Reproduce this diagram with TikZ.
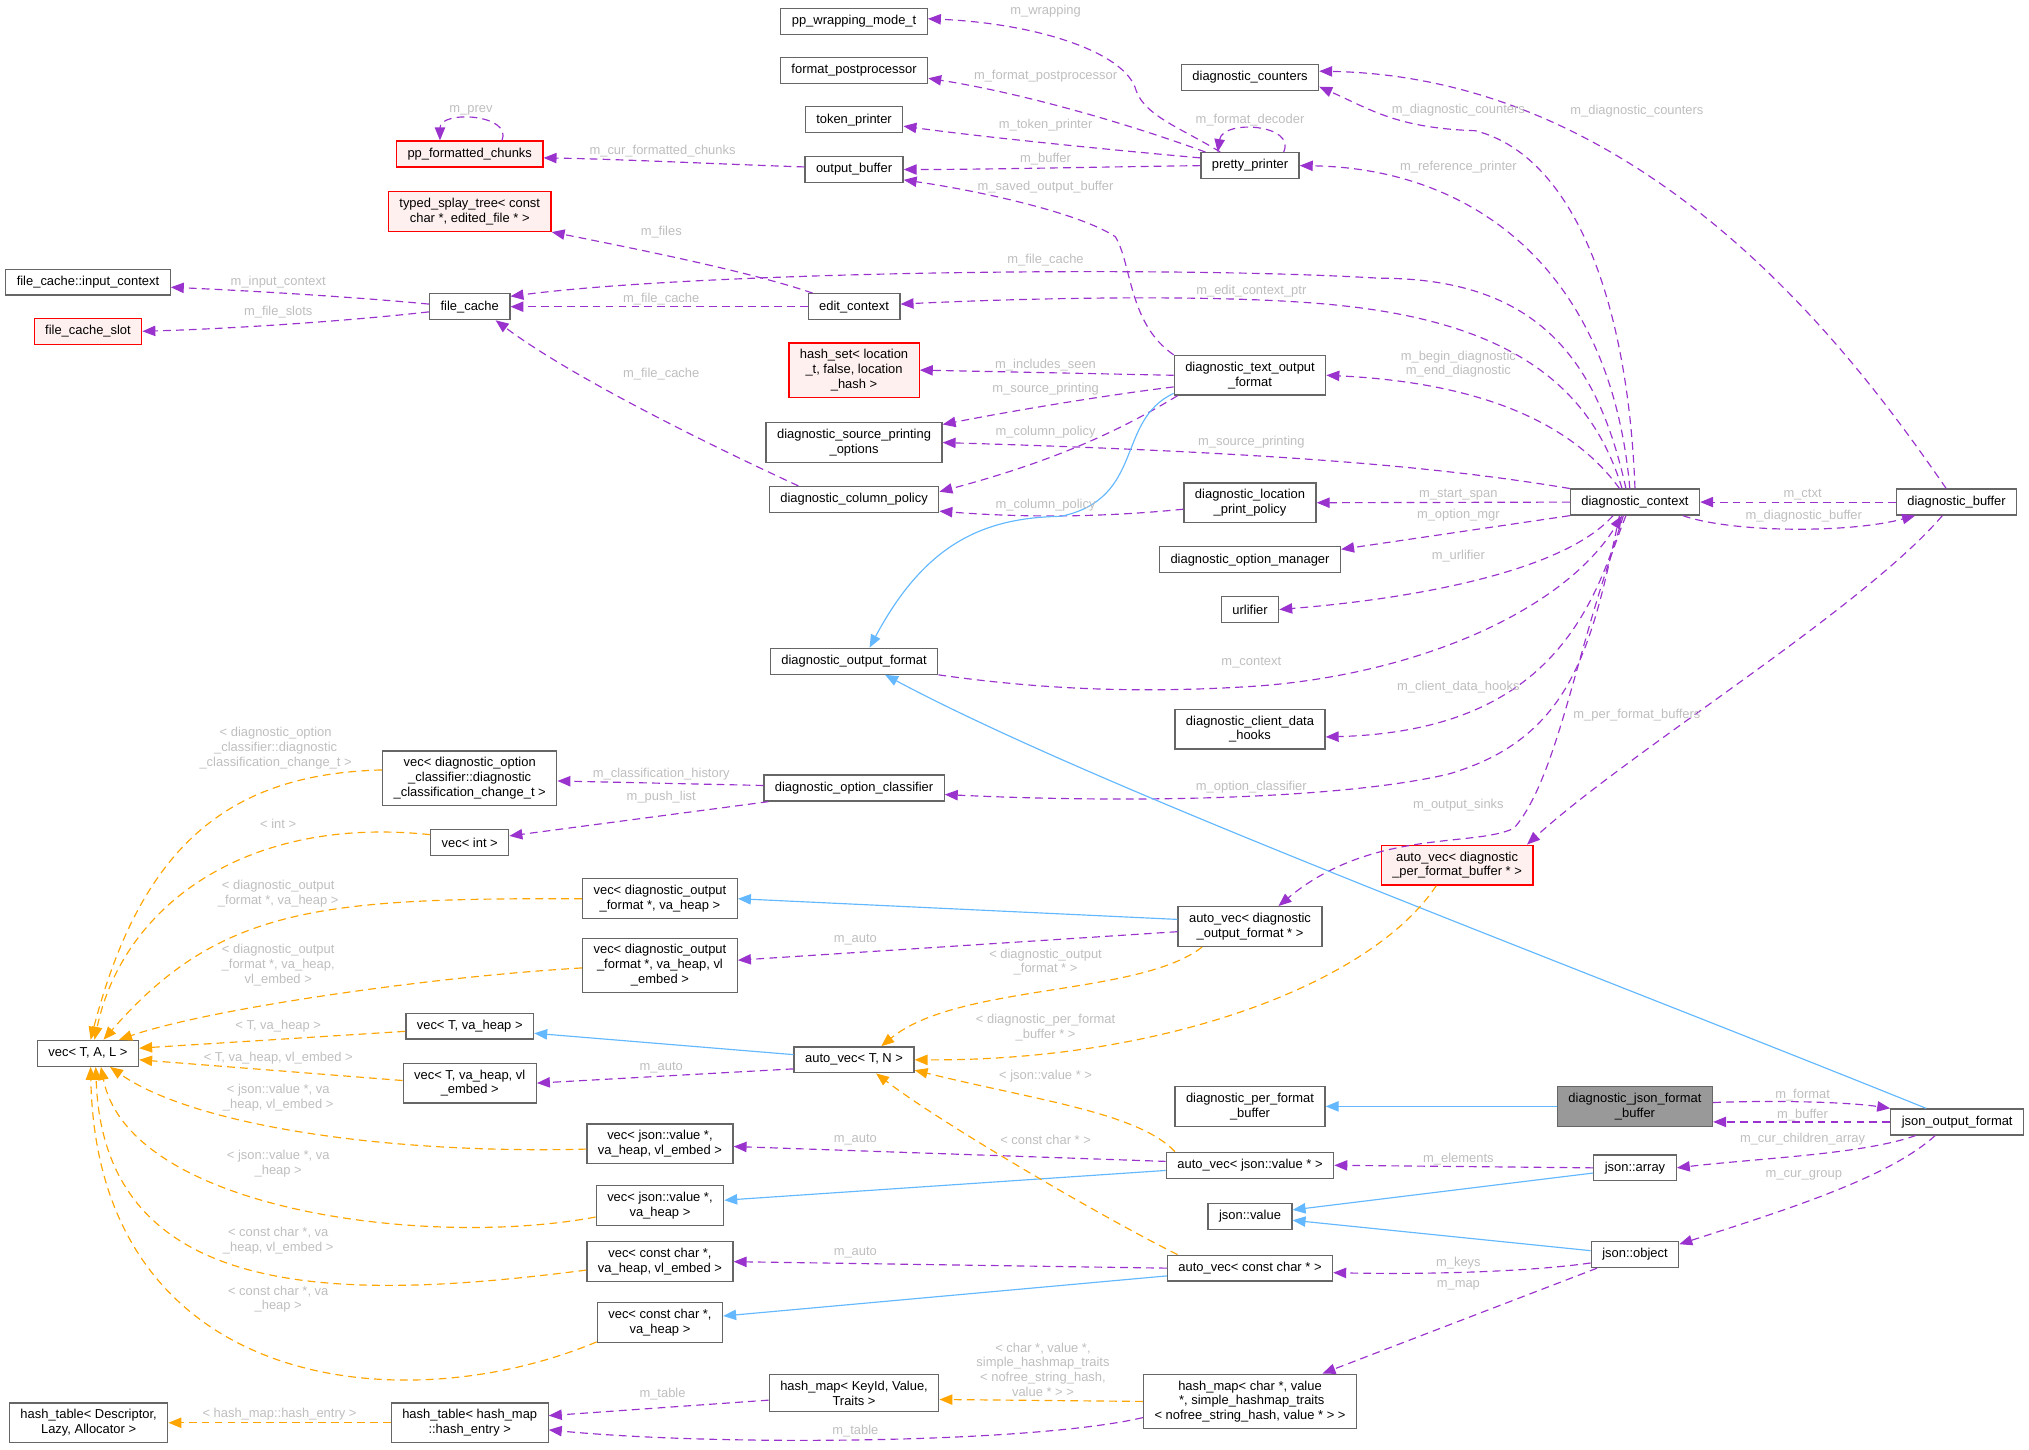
\documentclass[tikz,border=0pt]{standalone}
\usepackage{fontspec}
\setmainfont{Liberation Sans}
\usetikzlibrary{arrows.meta}
\definecolor{memc}{HTML}{9A32CD}
\definecolor{tplc}{HTML}{FFA500}
\definecolor{inhc}{HTML}{63B8FF}
\definecolor{edgec}{HTML}{666666}
\definecolor{lblc}{HTML}{BEBEBE}
\definecolor{redfill}{HTML}{FFF0F0}
\definecolor{selfill}{HTML}{999999}

\begin{document}
\begin{tikzpicture}[x=1pt,y=-1pt,
	box/.style={draw=edgec,line width=1pt,fill=white,align=center,
		font=\fontsize{10}{11.4}\selectfont,inner xsep=8.5pt,inner ysep=5pt,minimum height=20pt},
	redbox/.style={box,draw=red,fill=redfill},
	selbox/.style={box,fill=selfill},
	lbl/.style={text=lblc,align=center,font=\fontsize{10}{11.4}\selectfont,inner sep=0pt},
	mem/.style={draw=memc,line width=0.9pt,dash pattern=on 6pt off 4pt,-{Triangle[length=10pt,width=8pt]}},
	tpl/.style={mem,draw=tplc},
	inh/.style={draw=inhc,line width=0.9pt,-{Triangle[length=10pt,width=8pt]}}]
	\useasboundingbox (0,0) rectangle (1568,1120);
	% classes
	\node[box] (ppw) at (660,16.5) {pp\_wrapping\_mode\_t};
	\node[box] (fpp) at (660,54.5) {format\_postprocessor};
	\node[box] (tok) at (660,92.5) {token\_printer};
	\node[box] (obuf) at (660,131) {output\_buffer};
	\node[box] (cnt) at (966,60) {diagnostic\_counters};
	\node[box] (pp) at (966,128) {pretty\_printer};
	\node[redbox] (chunks) at (363,119) {pp\_formatted\_chunks};
	\node[redbox] (splay) at (363,163.5) {typed\_splay\_tree< const\\char *, edited\_file * >};
	\node[box] (inctx) at (68,218) {file\_cache::input\_context};
	\node[redbox] (slot) at (68,256) {file\_cache\_slot};
	\node[box] (fc) at (363,237) {file\_cache};
	\node[box] (edit) at (660,237) {edit\_context};
	\node[redbox] (hset) at (660,286) {hash\_set< location\\\_t, false, location\\\_hash >};
	\node[box] (txt) at (966,290) {diagnostic\_text\_output\\\_format};
	\node[box] (srcp) at (660,342) {diagnostic\_source\_printing\\\_options};
	\node[box] (colp) at (660,386) {diagnostic\_column\_policy};
	\node[box] (locp) at (966,388.5) {diagnostic\_location\\\_print\_policy};
	\node[box] (optm) at (966,432.5) {diagnostic\_option\_manager};
	\node[box] (url) at (966,471) {urlifier};
	\node[box] (ctx) at (1263.5,388) {diagnostic\_context};
	\node[box] (dbuf) at (1512,388) {diagnostic\_buffer};
	\node[box] (dof) at (660,511) {diagnostic\_output\_format};
	\node[box] (hooks) at (966,563.5) {diagnostic\_client\_data\\\_hooks};
	\node[box] (vcls) at (363,601.5) {vec< diagnostic\_option\\\_classifier::diagnostic\\\_classification\_change\_t >};
	\node[box] (ocls) at (660,609) {diagnostic\_option\_classifier};
	\node[box] (vint) at (363,651) {vec< int >};
	\node[redbox] (avpf) at (1126,668.5) {auto\_vec< diagnostic\\\_per\_format\_buffer * >};
	\node[box] (vdofh) at (510,694.5) {vec< diagnostic\_output\\\_format *, va\_heap >};
	\node[box] (avdof) at (966,716) {auto\_vec< diagnostic\\\_output\_format * >};
	\node[box] (vdofe) at (510,746) {vec< diagnostic\_output\\\_format *, va\_heap, vl\\\_embed >};
	\node[box] (vtal) at (68,814) {vec< T, A, L >};
	\node[box] (vth) at (363,793) {vec< T, va\_heap >};
	\node[box] (avtn) at (660,819) {auto\_vec< T, N >};
	\node[box] (vte) at (363,837) {vec< T, va\_heap, vl\\\_embed >};
	\node[box] (pfb) at (966,855) {diagnostic\_per\_format\\\_buffer};
	\node[selbox] (jfb) at (1263.5,855) {diagnostic\_json\_format\\\_buffer};
	\node[box] (jof) at (1512.5,867) {json\_output\_format};
	\node[box] (vjve) at (510,884) {vec< json::value *,\\va\_heap, vl\_embed >};
	\node[box] (avjv) at (966,900.5) {auto\_vec< json::value * >};
	\node[box] (jarr) at (1263.5,902.5) {json::array};
	\node[box] (vjvh) at (510,931.5) {vec< json::value *,\\va\_heap >};
	\node[box] (jval) at (966,940) {json::value};
	\node[box] (jobj) at (1263.5,969.5) {json::object};
	\node[box] (vcce) at (510,975) {vec< const char *,\\va\_heap, vl\_embed >};
	\node[box] (avcc) at (966,980) {auto\_vec< const char * >};
	\node[box] (vcch) at (510,1022) {vec< const char *,\\va\_heap >};
	\node[box] (hmk) at (660,1076.5) {hash\_map< KeyId, Value,\\Traits >};
	\node[box] (hmc) at (966,1083) {hash\_map< char *, value\\{} *, simple\_hashmap\_traits\\< nofree\_string\_hash, value * > >};
	\node[box] (htd) at (68.5,1099.5) {hash\_table< Descriptor,\\Lazy, Allocator >};
	\node[box] (hte) at (363,1099.5) {hash\_table< hash\_map\\::hash\_entry >};
	% members
	\draw[mem] ([xshift=-23pt]pp.north) .. controls (915,100) and (885,90) .. (878,70) .. controls (870,40) and (800,18) .. ([yshift=2pt]ppw.east);
	\draw[mem] ([xshift=4pt]pp.north west) .. controls (870,95) and (790,72) .. ([yshift=-6pt]fpp.east);
	\draw[mem] ([yshift=6pt]pp.west) .. controls (860,116) and (760,106) .. ([yshift=-5pt]tok.east);
	\draw[mem] (pp.west) .. controls (850,129) and (760,131) .. (obuf.east);
	\draw[mem] ([xshift=26pt]pp.north) .. controls (1002,96) and (945,92) .. ([xshift=-25pt]pp.north);
	\draw[mem] ([yshift=2pt]obuf.west) .. controls (560,127) and (480,123) .. ([yshift=-3pt]chunks.east);
	\draw[mem] ([xshift=25pt]chunks.north) .. controls (396,88) and (340,85) .. ([xshift=-23pt]chunks.north);
	\draw[mem] ([xshift=-32pt]edit.north) .. controls (580,210) and (490,192) .. (splay.south east);
	\draw[mem] ([yshift=2pt]fc.west) .. controls (280,230) and (200,225) .. ([yshift=-4pt]inctx.east);
	\draw[mem] ([yshift=-4pt]fc.west) .. controls (270,248) and (180,254) .. (slot.east);
	\draw[mem] (edit.west) -- (fc.east);
	\draw[mem] ([xshift=-7pt]ctx.north) .. controls (1235,280) and (1190,215) .. (1066,215) .. controls (900,205) and (540,210) .. ([yshift=8pt]fc.east);
	\draw[mem] ([xshift=-10pt]ctx.north) .. controls (1230,300) and (1170,250) .. (1035,236) .. controls (950,227) and (800,230) .. ([yshift=2pt]edit.east);
	\draw[mem] (ctx.north) .. controls (1258,230) and (1215,120) .. (1140,101) .. controls (1080,99) and (1060,85) .. ([yshift=-7pt]cnt.east);
	\draw[mem] ([xshift=-8pt]dbuf.north) .. controls (1440,285) and (1280,60) .. ([yshift=5pt]cnt.east);
	\draw[mem] ([xshift=-4pt]ctx.north) .. controls (1245,210) and (1140,130) .. (pp.east);
	\draw[mem] ([xshift=-12pt]ctx.north) .. controls (1210,320) and (1130,295) .. (txt.east);
	\draw[mem] (txt.north west) .. controls (872,250) and (875,205) .. (862,183) .. controls (835,165) and (760,148) .. ([yshift=-8pt]obuf.east);
	\draw[mem] (txt.west) -- (hset.east);
	\draw[mem] ([yshift=-9pt]txt.west) .. controls (850,306) and (780,318) .. ([yshift=14pt]srcp.east);
	\draw[mem] ([xshift=3pt]txt.south west) .. controls (870,330) and (820,355) .. ([yshift=6pt]colp.east);
	\draw[mem] ([yshift=-5pt]locp.west) .. controls (850,400) and (790,400) .. ([yshift=-9pt]colp.east);
	\draw[mem] ([xshift=-43pt]colp.north) .. controls (540,340) and (440,290) .. ([xshift=20pt]fc.south);
	\draw[mem] (ctx.north west) .. controls (1120,362) and (1000,350) .. (srcp.east);
	\draw[mem] (ctx.west) -- (locp.east);
	\draw[mem] (ctx.south west) -- ([yshift=8pt]optm.east);
	\draw[mem] ([xshift=-17pt]ctx.south) .. controls (1210,440) and (1100,462) .. (url.east);
	\draw[mem] (dof.south east) .. controls (820,535) and (900,535) .. (974,530) .. controls (1100,520) and (1210,470) .. ([xshift=-10pt]ctx.south);
	\draw[mem] ([xshift=-9pt]ctx.south) .. controls (1230,480) and (1190,565) .. ([yshift=-6pt]hooks.east);
	\draw[mem] ([xshift=-12pt]ctx.south) .. controls (1230,500) and (1215,570) .. (1120,598) .. controls (1050,615) and (900,622) .. ([yshift=-5pt]ocls.east);
	\draw[mem] ([xshift=-7pt]ctx.south) .. controls (1220,490) and (1205,600) .. (1170,640) .. controls (1140,655) and (1060,640) .. ([xshift=22pt]avdof.north);
	\draw[mem] ([xshift=37pt]ctx.south) .. controls (1340,412) and (1430,412) .. ([xshift=-32pt]dbuf.south);
	\draw[mem] (dbuf.west) -- (ctx.east);
	\draw[mem] ([xshift=-11pt]dbuf.south) .. controls (1440,470) and (1260,580) .. ([xshift=-5pt]avpf.north east);
	\draw[mem] ([yshift=2pt]ocls.west) -- ([yshift=-2pt]vcls.east);
	\draw[mem] ([xshift=4pt]ocls.south west) -- ([yshift=5pt]vint.east);
	\draw[mem] ([yshift=-4pt]avdof.west) -- ([yshift=4pt]vdofe.east);
	\draw[mem] ([yshift=-7pt]avtn.west) -- (vte.east);
	\draw[mem] ([yshift=3pt]avjv.west) -- ([yshift=-2pt]vjve.east);
	\draw[mem] (avcc.west) -- (vcce.east);
	\draw[mem] (jarr.west) -- (avjv.east);
	\draw[mem] ([yshift=-6.5pt]jobj.west) .. controls (1180,983) and (1100,985) .. ([yshift=-3.5pt]avcc.east);
	\draw[mem] ([xshift=5pt]jobj.south west) -- ([xshift=56pt]hmc.north);
	\draw[mem] ([yshift=-5.5pt]hmk.west) -- ([yshift=5.5pt]hte.east);
	\draw[mem] ([yshift=-12.5pt]hmc.west) .. controls (800,1115) and (560,1118) .. ([yshift=-5.5pt]hte.east);
	\draw[mem] ([yshift=3pt]jfb.east) .. controls (1380,850) and (1430,852) .. (jof.north west);
	\draw[mem] (jof.west) -- ([yshift=-12pt]jfb.east);
	\draw[mem] ([xshift=-32pt]jof.south) .. controls (1440,892) and (1360,895) .. (jarr.east);
	\draw[mem] ([xshift=-17pt]jof.south) .. controls (1460,910) and (1380,935) .. ([yshift=8pt]jobj.east);
	% bases
	\draw[inh] ([yshift=-14pt]txt.west) .. controls (862,325) and (885,385) .. (820,399) .. controls (760,400) and (715,420) .. ([xshift=12pt]dof.north);
	\draw[inh] ([xshift=-24pt]jof.north) .. controls (1200,740) and (850,610) .. ([xshift=24pt]dof.south);
	\draw[inh] ([yshift=5.5pt]avdof.west) -- (vdofh.east);
	\draw[inh] ([yshift=4pt]avtn.west) -- ([yshift=-5.5pt]vth.east);
	\draw[inh] ([yshift=-4pt]avjv.west) -- ([yshift=4pt]vjvh.east);
	\draw[inh] ([yshift=-6pt]avcc.west) -- ([yshift=5pt]vcch.east);
	\draw[inh] (jfb.west) -- (pfb.east);
	\draw[inh] ([yshift=-4pt]jarr.west) -- ([yshift=5pt]jval.east);
	\draw[inh] ([yshift=3pt]jobj.west) -- ([yshift=-3pt]jval.east);
	% templates
	\draw[tpl] ([yshift=6.5pt]vcls.west) .. controls (180,598) and (110,650) .. ([xshift=2pt]vtal.north);
	\draw[tpl] ([yshift=6pt]vint.west) .. controls (190,630) and (95,700) .. ([xshift=5pt]vtal.north);
	\draw[tpl] (vdofh.west) .. controls (250,694) and (170,700) .. ([xshift=12pt]vtal.north);
	\draw[tpl] ([yshift=-2pt]vdofe.west) .. controls (330,755) and (160,780) .. ([xshift=24pt]vtal.north);
	\draw[tpl] ([yshift=-4pt]vth.west) -- ([yshift=4pt]vtal.east);
	\draw[tpl] ([yshift=2pt]vte.west) -- ([yshift=-5pt]vtal.east);
	\draw[tpl] ([yshift=-4pt]vjve.west) .. controls (300,892) and (150,870) .. ([xshift=17pt]vtal.south);
	\draw[tpl] ([yshift=-9pt]vjvh.west) .. controls (330,965) and (100,935) .. ([xshift=10pt]vtal.south);
	\draw[tpl] ([yshift=-6.5pt]vcce.west) .. controls (270,1005) and (80,1010) .. ([xshift=6pt]vtal.south);
	\draw[tpl] ([yshift=-15pt]vcch.west) .. controls (310,1100) and (75,1075) .. ([xshift=2pt]vtal.south);
	\draw[tpl] (hte.west) -- (htd.east);
	\draw[tpl] ([xshift=-37pt]avdof.south) .. controls (880,770) and (740,760) .. ([xshift=21pt]avtn.north);
	\draw[tpl] ([xshift=-16pt]avpf.south) .. controls (1060,760) and (900,820) .. (avtn.east);
	\draw[tpl] ([xshift=-58pt]avjv.north) .. controls (880,860) and (800,850) .. ([yshift=-8pt]avtn.east);
	\draw[tpl] ([xshift=-56pt]avcc.north) .. controls (860,945) and (730,870) .. ([xshift=17pt]avtn.south);
	\draw[tpl] (hmc.west) -- ([yshift=-5pt]hmk.east);
	% labels
	\node[lbl] (lwrap) at (808,9) {m\_wrapping};
	\node[lbl] (lfpp) at (808,59) {m\_format\_postprocessor};
	\node[lbl] (ltok) at (808,97) {m\_token\_printer};
	\node[lbl] (lbuf) at (808,123) {m\_buffer};
	\node[lbl] (ldec) at (966,93) {m\_format\_decoder};
	\node[lbl] (lchunk) at (512,117) {m\_cur\_formatted\_chunks};
	\node[lbl] (lprev) at (364,85) {m\_prev};
	\node[lbl] (lsave) at (808,145) {m\_saved\_output\_buffer};
	\node[lbl] (lfiles) at (511,179) {m\_files};
	\node[lbl] (linctx) at (215,218) {m\_input\_context};
	\node[lbl] (lslots) at (215,241) {m\_file\_slots};
	\node[lbl] (lfca) at (511,231) {m\_file\_cache};
	\node[lbl] (lfcb) at (808,201) {m\_file\_cache};
	\node[lbl] (lfcc) at (511,289) {m\_file\_cache};
	\node[lbl] (ledit) at (967,225) {m\_edit\_context\_ptr};
	\node[lbl] (lcnta) at (1127,85.5) {m\_diagnostic\_counters};
	\node[lbl] (lcntb) at (1265,86) {m\_diagnostic\_counters};
	\node[lbl] (lref) at (1127,129) {m\_reference\_printer};
	\node[lbl] (lbegin) at (1127,281.5) {m\_begin\_diagnostic\\m\_end\_diagnostic};
	\node[lbl] (lincl) at (808,282) {m\_includes\_seen};
	\node[lbl] (lsrca) at (808,300.6) {m\_source\_printing};
	\node[lbl] (lcola) at (808,333.6) {m\_column\_policy};
	\node[lbl] (lsrcb) at (967,342) {m\_source\_printing};
	\node[lbl] (lcolb) at (808,390) {m\_column\_policy};
	\node[lbl] (lspan) at (1127,382) {m\_start\_span};
	\node[lbl] (lmgr) at (1127,398) {m\_option\_mgr};
	\node[lbl] (lurl) at (1127,430) {m\_urlifier};
	\node[lbl] (lctx) at (967,512) {m\_context};
	\node[lbl] (lhooks) at (1127,531) {m\_client\_data\_hooks};
	\node[lbl] (locls) at (967,608) {m\_option\_classifier};
	\node[lbl] (lsinks) at (1127,622) {m\_output\_sinks};
	\node[lbl] (lpfb) at (1265,553) {m\_per\_format\_buffers};
	\node[lbl] (lctxt) at (1393,382) {m\_ctxt};
	\node[lbl] (ldbuf) at (1394,398.5) {m\_diagnostic\_buffer};
	\node[lbl] (lhist) at (511,598) {m\_classification\_history};
	\node[lbl] (lpush) at (511,616) {m\_push\_list};
	\node[lbl] (lauta) at (661,726) {m\_auto};
	\node[lbl] (lautb) at (511,825) {m\_auto};
	\node[lbl] (lautc) at (661,881) {m\_auto};
	\node[lbl] (lautd) at (661,968) {m\_auto};
	\node[lbl] (lelem) at (1127,896) {m\_elements};
	\node[lbl] (lkeys) at (1127,976) {m\_keys};
	\node[lbl] (lmap) at (1127,993) {m\_map};
	\node[lbl] (ltaba) at (512,1077.5) {m\_table};
	\node[lbl] (ltabb) at (661,1106) {m\_table};
	\node[lbl] (lfmt) at (1393,846) {m\_format};
	\node[lbl] (ljbuf) at (1393,862) {m\_buffer};
	\node[lbl] (lchild) at (1393,880) {m\_cur\_children\_array};
	\node[lbl] (lgroup) at (1394,908) {m\_cur\_group};
	\node[lbl] (tcls) at (213,578) {< diagnostic\_option\\\_classifier::diagnostic\\\_classification\_change\_t >};
	\node[lbl] (tint) at (215,637) {< int >};
	\node[lbl] (tdofh) at (215,690.6) {< diagnostic\_output\\\_format *, va\_heap >};
	\node[lbl] (tdofe) at (215,746) {< diagnostic\_output\\\_format *, va\_heap,\\vl\_embed >};
	\node[lbl] (tth) at (215,793) {< T, va\_heap >};
	\node[lbl] (tte) at (215,818) {< T, va\_heap, vl\_embed >};
	\node[lbl] (tjve) at (215,848.5) {< json::value *, va\\\_heap, vl\_embed >};
	\node[lbl] (tjvh) at (215,899) {< json::value *, va\\\_heap >};
	\node[lbl] (tcce) at (215,958.5) {< const char *, va\\\_heap, vl\_embed >};
	\node[lbl] (tcch) at (215,1004) {< const char *, va\\\_heap >};
	\node[lbl] (tent) at (216,1093) {< hash\_map::hash\_entry >};
	\node[lbl] (tdof) at (808,743.5) {< diagnostic\_output\\\_format * >};
	\node[lbl] (tpf) at (808,794) {< diagnostic\_per\_format\\\_buffer * >};
	\node[lbl] (tjv) at (808,831.5) {< json::value * >};
	\node[lbl] (tcc) at (808,881) {< const char * >};
	\node[lbl] (thm) at (806,1058.5) {< char *, value *,\\simple\_hashmap\_traits\\< nofree\_string\_hash,\\value * > >};
\end{tikzpicture}
\end{document}
